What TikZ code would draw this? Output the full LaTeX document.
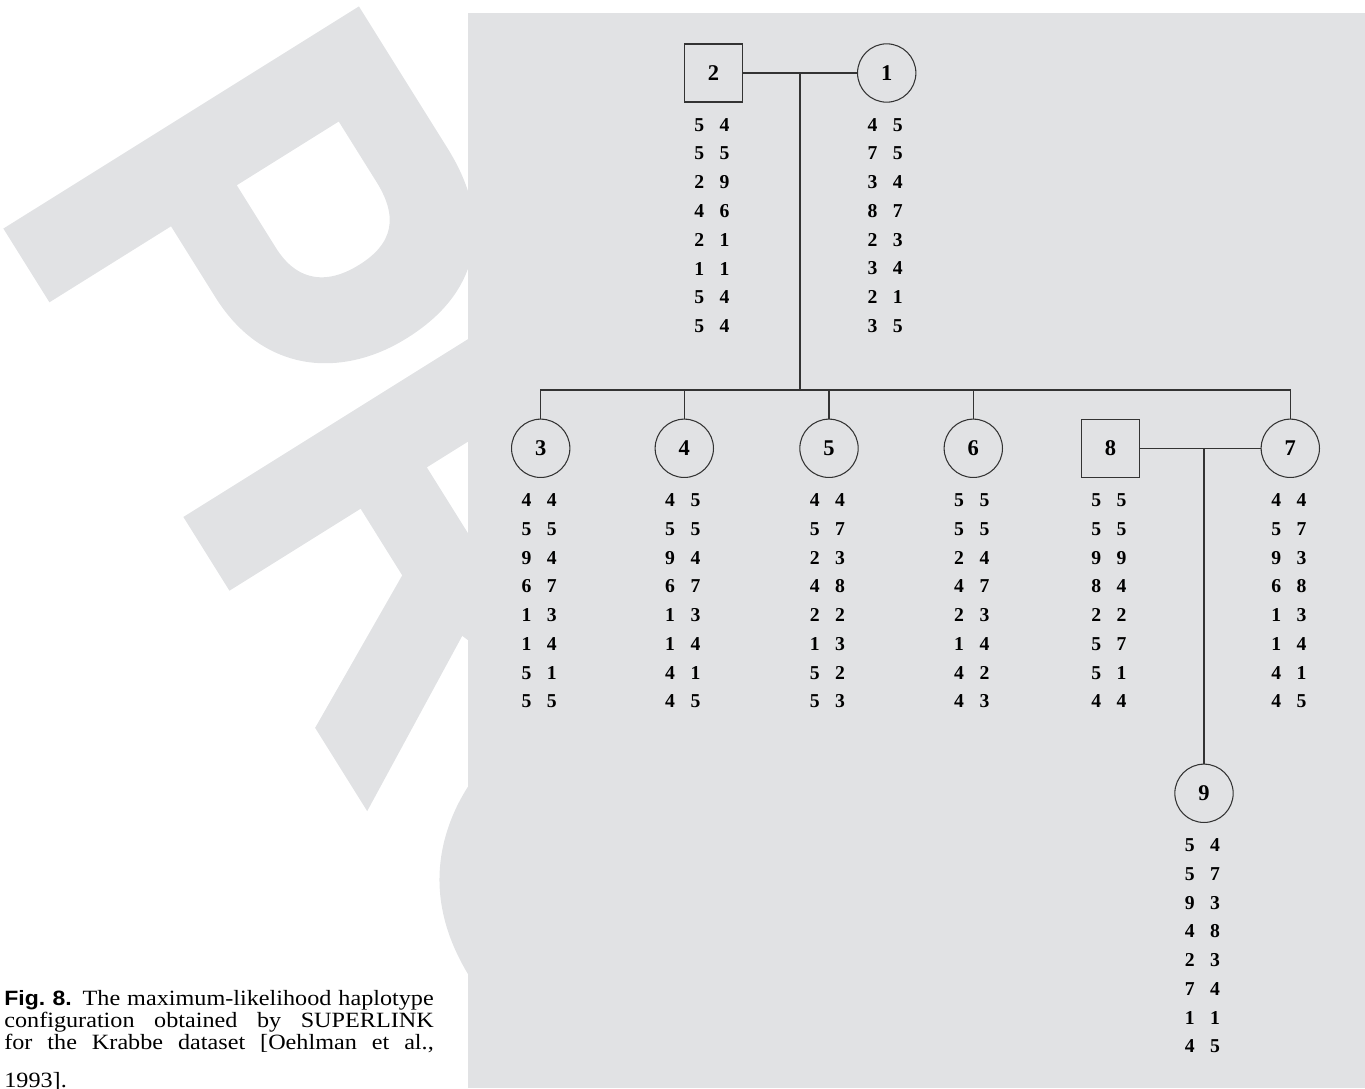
\documentclass[tikz,border=0pt]{standalone}
\usepackage{fontspec}
\setmainfont{Liberation Serif}
\newfontfamily\capsans[FakeStretch=1.11]{Liberation Sans}
\newfontfamily\capserif[FakeStretch=1.11]{Liberation Serif}
\newfontfamily\wmfont[FakeStretch=0.88, FakeBold=2]{Liberation Sans}
\usepackage{tikz}
\usetikzlibrary{calc}
\definecolor{panelgray}{HTML}{E1E2E4}
\definecolor{linegray}{HTML}{333333}

%% haplotype column under a person: #1 person node, #2 allele pairs
\newcommand{\haplo}[2]{%
  \foreach \a/\b [count=\i] in {#2}
    \node[allele] (#1-\i) at ($(#1)+(-1.5,{51.8+28.75*(\i-1)})$) {\a\hspace{8.8pt}\b};
}

\begin{document}
\begin{tikzpicture}[x=0.02cm, y=-0.02cm,
  male/.style={rectangle, draw=linegray, line width=0.6pt, fill=panelgray,
               minimum size=33pt, inner sep=0pt,
               font=\fontsize{12.8}{14}\selectfont\bfseries},
  female/.style={circle, draw=linegray, line width=0.6pt, fill=panelgray,
                 minimum size=33.2pt, inner sep=0pt,
                 font=\fontsize{12.8}{14}\selectfont\bfseries},
  allele/.style={inner sep=0pt, font=\fontsize{11.2}{12}\selectfont\bfseries},
  line/.style={draw=linegray, line width=0.6pt},
  wm/.style={text=panelgray, inner sep=0pt, anchor=base west, rotate=-58,
             font=\fontsize{337}{340}\selectfont\wmfont\bfseries},
  caption/.style={anchor=base west, inner sep=0pt, text width=8.59cm,
                  align=justify, font=\capserif\fontsize{12.4}{12.8}\selectfont}
]
\useasboundingbox (0,0) rectangle (1365,1088);
\clip (0,0) rectangle (1365,1088);
%% watermark behind the panel
\node[wm] (wmP) at (-7.1,200.6) {P};
\node[wm] (wmR) at (172.9,489) {R};
\node[wm] (wmO) at (373,800) {O};
\fill[panelgray] (468,13) rectangle (1365,1088);
%% GENERATION I
\node[male]   (p2) at (713.5,73) {2};
\node[female] (p1) at (886.7,73) {1};
\coordinate (m12) at (800,73);
\coordinate (sib) at (800,390);
\draw[line] (p2) -- (p1);
\draw[line] (m12) -- (sib);
%% GENERATION II
\node[female] (p3) at (540.7,448.3)  {3};
\node[female] (p4) at (684.3,448.3)  {4};
\node[female] (p5) at (829,448.3)    {5};
\node[female] (p6) at (973.3,448.3)  {6};
\node[male]   (p8) at (1110.5,448.3) {8};
\node[female] (p7) at (1290.3,448.3) {7};
\draw[line] (p3.north) |- (sib) -| (p7.north);
\foreach \c in {p4,p5,p6}
  \draw[line] (\c.north) -- (\c.north |- sib);
\coordinate (m87) at (1204,448.3);
\draw[line] (p8) -- (p7);
%% GENERATION III
\node[female] (p9) at (1204,793.3) {9};
\draw[line] (m87) -- (p9.north);
%% haplotypes
\haplo{p2}{5/4,5/5,2/9,4/6,2/1,1/1,5/4,5/4}
\haplo{p1}{4/5,7/5,3/4,8/7,2/3,3/4,2/1,3/5}
\haplo{p3}{4/4,5/5,9/4,6/7,1/3,1/4,5/1,5/5}
\haplo{p4}{4/5,5/5,9/4,6/7,1/3,1/4,4/1,4/5}
\haplo{p5}{4/4,5/7,2/3,4/8,2/2,1/3,5/2,5/3}
\haplo{p6}{5/5,5/5,2/4,4/7,2/3,1/4,4/2,4/3}
\haplo{p8}{5/5,5/5,9/9,8/4,2/2,5/7,5/1,4/4}
\haplo{p7}{4/4,5/7,9/3,6/8,1/3,1/4,4/1,4/5}
\haplo{p9}{5/4,5/7,9/3,4/8,2/3,7/4,1/1,4/5}
%% caption
\node[caption] (cap) at (4,1005)
  {{\capsans\bfseries\fontsize{11.8}{12.8}\selectfont Fig.~8.} The maximum-likelihood haplotype\linebreak
   configuration obtained by SUPERLINK\linebreak
   for the Krabbe dataset [Oehlman et al.,\vspace*{8.8pt}\linebreak
   1993].};
\end{tikzpicture}
\end{document}
